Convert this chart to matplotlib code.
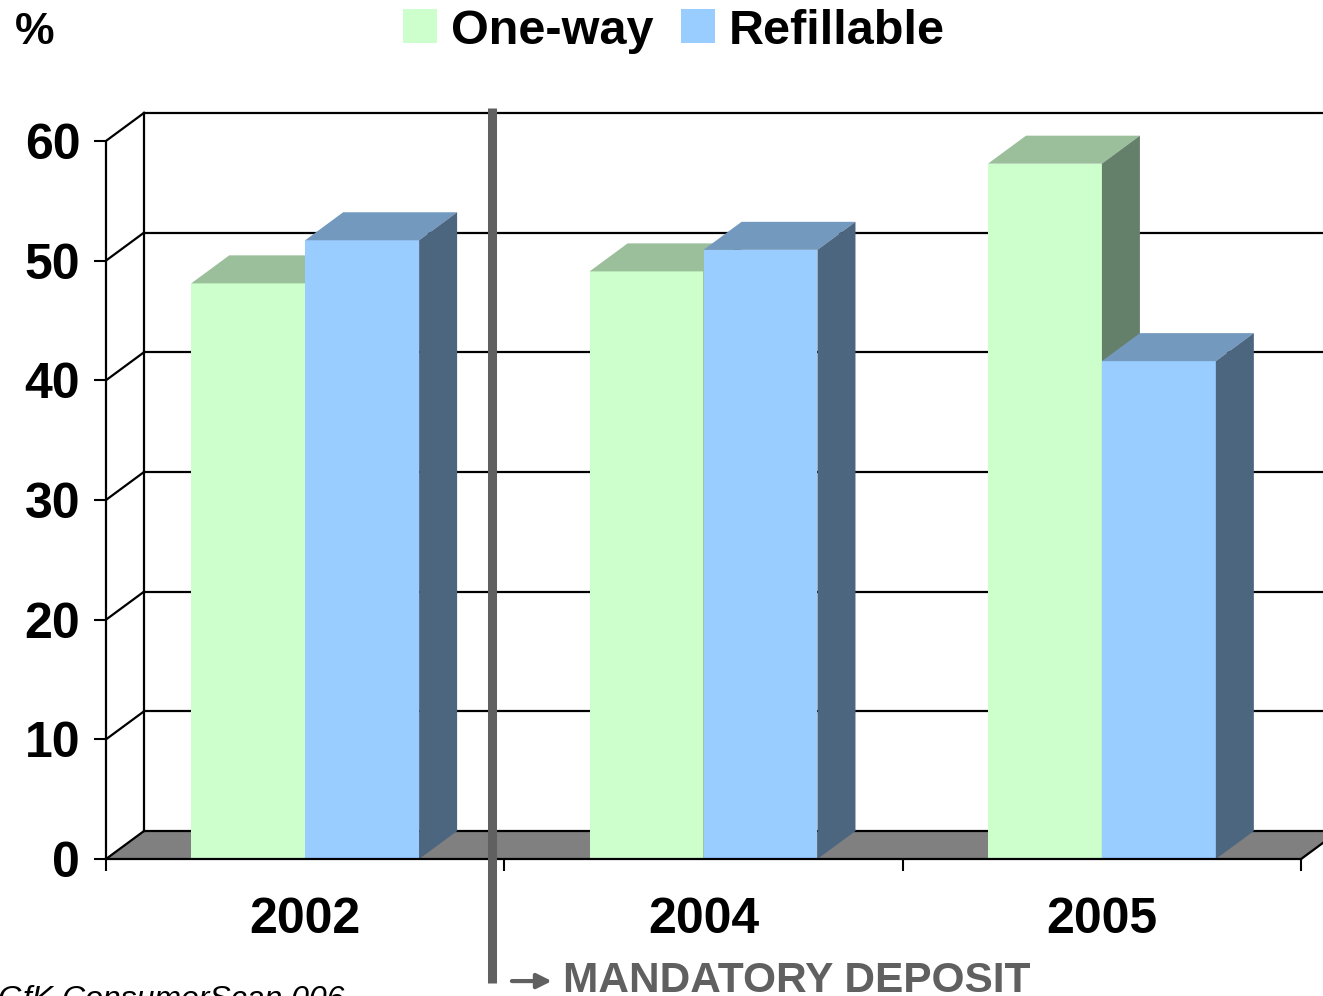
import matplotlib
matplotlib.use('Agg')
import matplotlib.pyplot as plt
from matplotlib.patches import Polygon, Patch

years = ['2002', '2004', '2005']
one_way = [48.1, 49.1, 58.1]
refillable = [51.7, 50.9, 41.6]
y_ticks = [0, 10, 20, 30, 40, 50, 60]

# front / top / side shades for each series
series = [
    ('One-way', one_way, ('#CCFFCC', '#9BBF9B', '#65806A')),
    ('Refillable', refillable, ('#99CCFF', '#7399BF', '#4D6680')),
]

plt.rcParams['font.family'] = ['Liberation Sans', 'DejaVu Sans']

fig = plt.figure(figsize=(13.23, 9.96), dpi=100)
ax = fig.add_axes([106 / 1323, 137 / 996, 1217 / 1323, 759 / 996])
ax.set_xlim(0, 3.055)
ax.set_ylim(0, 63.42)

dx, dy = 0.0954, 2.34   # depth offset of the 3-D box
bar_w = 0.286
x_end = 3.3

# floor
ax.add_patch(Polygon([(0, 0), (3, 0), (3 + dx, dy), (dx, dy)],
                     closed=True, fc='#808080', ec='none', zorder=1))
ax.plot([3, 3 + dx], [0, dy], color='k', lw=1.6, clip_on=False, zorder=1.5)

# back wall gridlines and side wall diagonals
for v in y_ticks:
    ax.plot([dx, x_end], [v + dy, v + dy], color='k', lw=1.6, zorder=1.5)
    ax.plot([0, dx], [v, v + dy], color='k', lw=1.6, zorder=1.5)
ax.plot([dx, dx], [dy, y_ticks[-1] + dy], color='k', lw=1.6, zorder=1.5)

# 3-D columns
for i in range(len(years)):
    for j, (name, vals, (c_front, c_top, c_side)) in enumerate(series):
        v = vals[i]
        x0 = i + 0.5 - bar_w + j * bar_w
        x1 = x0 + bar_w
        z = 2 + i * 0.1 + j * 0.01
        ax.add_patch(Polygon([(x0, 0), (x1, 0), (x1, v), (x0, v)],
                             fc=c_front, ec='none', zorder=z))
        ax.add_patch(Polygon([(x0, v), (x1, v), (x1 + dx, v + dy), (x0 + dx, v + dy)],
                             fc=c_top, ec='none', zorder=z))
        ax.add_patch(Polygon([(x1, 0), (x1, v), (x1 + dx, v + dy), (x1 + dx, dy)],
                             fc=c_side, ec='none', zorder=z))

# axes
for s in ['top', 'right']:
    ax.spines[s].set_visible(False)
ax.spines['left'].set_bounds(0, 60)
ax.spines['bottom'].set_bounds(0, 3)
for s in ['left', 'bottom']:
    ax.spines[s].set_linewidth(1.6)
    ax.spines[s].set_zorder(5)

ax.set_yticks(y_ticks, labels=[str(v) for v in y_ticks], fontsize=36, fontweight='bold')
ax.tick_params(axis='y', direction='out', length=8.6, width=1.5, pad=10)

ax.set_xticks([0, 1, 2, 3], labels=['', '', '', ''])
ax.set_xticks([0.5, 1.5, 2.5], labels=years, minor=True, fontsize=36, fontweight='bold')
ax.tick_params(axis='x', which='major', direction='out', length=8.6, width=1.5)
ax.tick_params(axis='x', which='minor', length=0, pad=27)

# mandatory deposit marker
ax.plot([0.97, 0.97], [62.75, -10.36], color='#606060', lw=6.5,
        solid_capstyle='butt', clip_on=False, zorder=10)
ax.annotate('', xy=(1.126, -10.2), xytext=(1.012, -10.2),
            arrowprops=dict(arrowstyle='-|>', color='#606060', lw=3, mutation_scale=22),
            annotation_clip=False)
ax.text(1.147, -11.15, 'MANDATORY DEPOSIT', color='#606060', fontsize=30.5,
        fontweight='bold', ha='left', va='baseline', clip_on=False)

fig.legend(handles=[Patch(fc=s[2][0]) for s in series], labels=[s[0] for s in series],
           loc='center', bbox_to_anchor=(674 / 1323, 1 - 31 / 996), ncol=2,
           frameon=False, prop={'weight': 'bold', 'size': 35},
           handlelength=0.7, handleheight=0.7, handletextpad=0.3,
           columnspacing=0.55, borderpad=0)

fig.text(15 / 1323, 1 - 12 / 996, '%', fontsize=32, fontweight='bold', va='top')
fig.text(-2 / 1323, (996 - 1008) / 996, 'GfK ConsumerScan 006', fontsize=23,
         style='italic', va='baseline')

fig.savefig('out.png', dpi=100)
